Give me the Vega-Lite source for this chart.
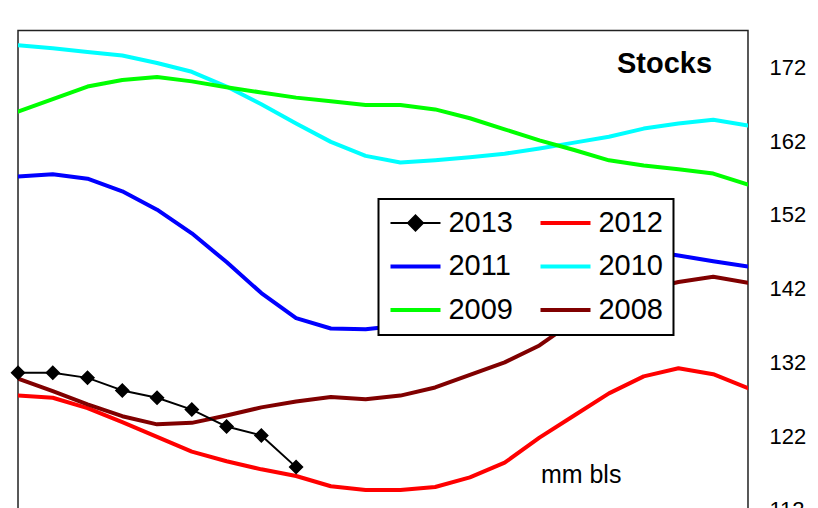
{
  "$schema": "https://vega.github.io/schema/vega-lite/v6.json",
  "autosize": {"type": "none"},
  "padding": {"left": 18, "top": 30.5, "right": 70, "bottom": 0},
  "width": 730,
  "height": 479.4,
  "background": "white",
  "config": {
    "font": "Liberation Sans",
    "view": {"stroke": "#222222", "strokeWidth": 1.5},
    "legend": {"strokeWidth": 2}
  },
  "datasets": {
    "lines": [
      {"year": "2012", "week": 1, "value": 127.5}, {"year": "2012", "week": 2, "value": 127.2}, {"year": "2012", "week": 3, "value": 125.8}, {"year": "2012", "week": 4, "value": 123.9}, {"year": "2012", "week": 5, "value": 121.9}, {"year": "2012", "week": 6, "value": 119.9}, {"year": "2012", "week": 7, "value": 118.6}, {"year": "2012", "week": 8, "value": 117.5}, {"year": "2012", "week": 9, "value": 116.6}, {"year": "2012", "week": 10, "value": 115.2}, {"year": "2012", "week": 11, "value": 114.7}, {"year": "2012", "week": 12, "value": 114.7}, {"year": "2012", "week": 13, "value": 115.1}, {"year": "2012", "week": 14, "value": 116.4}, {"year": "2012", "week": 15, "value": 118.4}, {"year": "2012", "week": 16, "value": 121.8}, {"year": "2012", "week": 17, "value": 124.8}, {"year": "2012", "week": 18, "value": 127.8}, {"year": "2012", "week": 19, "value": 130.1}, {"year": "2012", "week": 20, "value": 131.2}, {"year": "2012", "week": 21, "value": 130.4}, {"year": "2012", "week": 22, "value": 128.5},
      {"year": "2011", "week": 1, "value": 157.2}, {"year": "2011", "week": 2, "value": 157.5}, {"year": "2011", "week": 3, "value": 156.9}, {"year": "2011", "week": 4, "value": 155.2}, {"year": "2011", "week": 5, "value": 152.7}, {"year": "2011", "week": 6, "value": 149.5}, {"year": "2011", "week": 7, "value": 145.6}, {"year": "2011", "week": 8, "value": 141.4}, {"year": "2011", "week": 9, "value": 138.0}, {"year": "2011", "week": 10, "value": 136.6}, {"year": "2011", "week": 11, "value": 136.5}, {"year": "2011", "week": 12, "value": 137.0}, {"year": "2011", "week": 13, "value": 138.0}, {"year": "2011", "week": 14, "value": 139.7}, {"year": "2011", "week": 15, "value": 141.8}, {"year": "2011", "week": 16, "value": 143.8}, {"year": "2011", "week": 17, "value": 145.6}, {"year": "2011", "week": 18, "value": 146.6}, {"year": "2011", "week": 19, "value": 147.2}, {"year": "2011", "week": 20, "value": 146.5}, {"year": "2011", "week": 21, "value": 145.7}, {"year": "2011", "week": 22, "value": 145.0},
      {"year": "2010", "week": 1, "value": 175.0}, {"year": "2010", "week": 2, "value": 174.6}, {"year": "2010", "week": 3, "value": 174.1}, {"year": "2010", "week": 4, "value": 173.6}, {"year": "2010", "week": 5, "value": 172.6}, {"year": "2010", "week": 6, "value": 171.4}, {"year": "2010", "week": 7, "value": 169.4}, {"year": "2010", "week": 8, "value": 167.0}, {"year": "2010", "week": 9, "value": 164.4}, {"year": "2010", "week": 10, "value": 161.9}, {"year": "2010", "week": 11, "value": 160.0}, {"year": "2010", "week": 12, "value": 159.1}, {"year": "2010", "week": 13, "value": 159.4}, {"year": "2010", "week": 14, "value": 159.8}, {"year": "2010", "week": 15, "value": 160.3}, {"year": "2010", "week": 16, "value": 161.0}, {"year": "2010", "week": 17, "value": 161.8}, {"year": "2010", "week": 18, "value": 162.6}, {"year": "2010", "week": 19, "value": 163.7}, {"year": "2010", "week": 20, "value": 164.4}, {"year": "2010", "week": 21, "value": 164.9}, {"year": "2010", "week": 22, "value": 164.1},
      {"year": "2009", "week": 1, "value": 166.0}, {"year": "2009", "week": 2, "value": 167.7}, {"year": "2009", "week": 3, "value": 169.4}, {"year": "2009", "week": 4, "value": 170.3}, {"year": "2009", "week": 5, "value": 170.7}, {"year": "2009", "week": 6, "value": 170.1}, {"year": "2009", "week": 7, "value": 169.3}, {"year": "2009", "week": 8, "value": 168.6}, {"year": "2009", "week": 9, "value": 167.9}, {"year": "2009", "week": 10, "value": 167.4}, {"year": "2009", "week": 11, "value": 166.9}, {"year": "2009", "week": 12, "value": 166.9}, {"year": "2009", "week": 13, "value": 166.3}, {"year": "2009", "week": 14, "value": 165.1}, {"year": "2009", "week": 15, "value": 163.6}, {"year": "2009", "week": 16, "value": 162.1}, {"year": "2009", "week": 17, "value": 160.8}, {"year": "2009", "week": 18, "value": 159.4}, {"year": "2009", "week": 19, "value": 158.7}, {"year": "2009", "week": 20, "value": 158.2}, {"year": "2009", "week": 21, "value": 157.6}, {"year": "2009", "week": 22, "value": 156.1},
      {"year": "2008", "week": 1, "value": 129.8}, {"year": "2008", "week": 2, "value": 128.1}, {"year": "2008", "week": 3, "value": 126.3}, {"year": "2008", "week": 4, "value": 124.7}, {"year": "2008", "week": 5, "value": 123.6}, {"year": "2008", "week": 6, "value": 123.8}, {"year": "2008", "week": 7, "value": 124.8}, {"year": "2008", "week": 8, "value": 125.9}, {"year": "2008", "week": 9, "value": 126.7}, {"year": "2008", "week": 10, "value": 127.3}, {"year": "2008", "week": 11, "value": 127.0}, {"year": "2008", "week": 12, "value": 127.5}, {"year": "2008", "week": 13, "value": 128.6}, {"year": "2008", "week": 14, "value": 130.3}, {"year": "2008", "week": 15, "value": 132.0}, {"year": "2008", "week": 16, "value": 134.3}, {"year": "2008", "week": 17, "value": 137.6}, {"year": "2008", "week": 18, "value": 139.9}, {"year": "2008", "week": 19, "value": 141.8}, {"year": "2008", "week": 20, "value": 142.9}, {"year": "2008", "week": 21, "value": 143.6}, {"year": "2008", "week": 22, "value": 142.8},
      {"year": "2013", "week": 1, "value": 130.6}, {"year": "2013", "week": 2, "value": 130.6}, {"year": "2013", "week": 3, "value": 129.9}, {"year": "2013", "week": 4, "value": 128.2}, {"year": "2013", "week": 5, "value": 127.2}, {"year": "2013", "week": 6, "value": 125.6}, {"year": "2013", "week": 7, "value": 123.3}, {"year": "2013", "week": 8, "value": 122.1}, {"year": "2013", "week": 9, "value": 117.8}
    ],
    "current": [
      {"year": "2013", "week": 1, "value": 130.6}, {"year": "2013", "week": 2, "value": 130.6}, {"year": "2013", "week": 3, "value": 129.9}, {"year": "2013", "week": 4, "value": 128.2}, {"year": "2013", "week": 5, "value": 127.2}, {"year": "2013", "week": 6, "value": 125.6}, {"year": "2013", "week": 7, "value": 123.3}, {"year": "2013", "week": 8, "value": 122.1}, {"year": "2013", "week": 9, "value": 117.8}
    ]
  },
  "layer": [
    {
      "data": {"name": "lines"},
      "mark": {"type": "line", "strokeCap": "round", "strokeJoin": "round", "clip": true},
      "encoding": {
        "x": {"field": "week", "type": "quantitative", "scale": {"domain": [1, 22], "nice": false, "zero": false}, "axis": null},
        "y": {
          "field": "value", "type": "quantitative",
          "scale": {"domain": [112, 177], "nice": false, "zero": false},
          "axis": {"orient": "right", "values": [112, 122, 132, 142, 152, 162, 172], "grid": false, "ticks": false, "domain": false, "labelFontSize": 22, "labelColor": "black", "labelPadding": 21, "labelFont": "Liberation Sans", "title": null}
        },
        "color": {
          "field": "year", "type": "nominal",
          "scale": {"domain": ["2013", "2012", "2011", "2010", "2009", "2008"], "range": ["#000000", "#FF0000", "#0000FF", "#00FFFF", "#00FF00", "#800000"]},
          "legend": {
            "title": null, "orient": "none", "legendX": 360.5, "legendY": 168.5, "columns": 2,
            "direction": "horizontal", "symbolSize": 2500, "clipHeight": 28,
            "labelFontSize": 29, "labelFont": "Liberation Sans", "labelColor": "black", "labelOffset": 6,
            "columnPadding": 25, "rowPadding": 14.5, "padding": 10,
            "strokeColor": "black", "fillColor": "white", "symbolOpacity": 1
          }
        },
        "strokeWidth": {
          "field": "year", "type": "nominal",
          "scale": {"type": "ordinal", "domain": ["2013", "2012", "2011", "2010", "2009", "2008"], "range": [2, 4, 4, 4, 4, 4]},
          "legend": {"title": null}
        }
      }
    },
    {
      "data": {"name": "current"},
      "mark": {"type": "point", "filled": true, "size": 2500, "opacity": 1},
      "encoding": {
        "x": {"field": "week", "type": "quantitative"},
        "y": {"field": "value", "type": "quantitative"},
        "color": {"field": "year", "type": "nominal"},
        "shape": {
          "field": "year", "type": "nominal",
          "scale": {"domain": ["2013", "2012", "2011", "2010", "2009", "2008"], "range": ["M-1,0H1M0,-0.3L0.3,0L0,0.3L-0.3,0Z", "stroke", "stroke", "stroke", "stroke", "stroke"]},
          "legend": {"title": null}
        }
      }
    },
    {
      "data": {"values": [{"label": "Stocks"}]},
      "mark": {"type": "text", "fontSize": 29, "fontWeight": "bold", "align": "center", "baseline": "alphabetic", "font": "Liberation Sans", "fill": "black"},
      "encoding": {"text": {"field": "label", "type": "nominal"}, "x": {"datum": 19.6, "type": "quantitative"}, "y": {"datum": 171.2, "type": "quantitative"}}
    },
    {
      "data": {"values": [{"label": "mm bls"}]},
      "mark": {"type": "text", "fontSize": 25, "align": "center", "baseline": "alphabetic", "font": "Liberation Sans", "fill": "black"},
      "encoding": {"text": {"field": "label", "type": "nominal"}, "x": {"datum": 17.2, "type": "quantitative"}, "y": {"datum": 115.6, "type": "quantitative"}}
    }
  ]
}
